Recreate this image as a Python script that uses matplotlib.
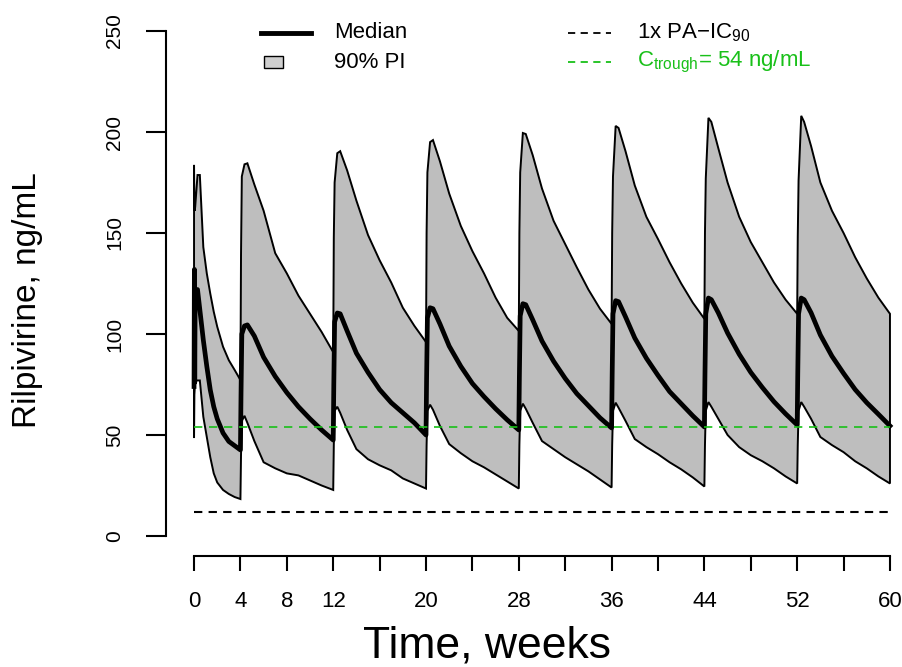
import numpy as np
import matplotlib
matplotlib.use("Agg")
import matplotlib.pyplot as plt
from matplotlib.lines import Line2D
from matplotlib.patches import Rectangle

plt.rcParams["font.family"] = ["Liberation Sans", "DejaVu Sans"]
plt.rcParams["mathtext.fontset"] = "custom"
plt.rcParams["mathtext.rm"] = "Liberation Sans"
plt.rcParams["mathtext.it"] = "Liberation Sans:italic"

# ---- data (ng/mL) ----
# start-up period, weeks 0-4
t_start = [0, 0.03, 0.06, 0.1, 0.3, 0.5, 0.8, 1.1, 1.4, 1.7, 2.0, 2.5, 3.0, 3.5, 4.0]
upper_start = [183.7, 165, 161, 163, 178.7, 178.7, 143, 130, 120, 111, 103.6, 93.7, 87, 82.2, 77.2]
median_start = [74, 132, 76, 122, 122, 112, 97, 84, 72.3, 64, 58, 51, 46.8, 44.7, 42.6]
lower_start = [48.5, 70, 73, 77, 77, 77, 59, 49, 39, 31, 26.5, 22.8, 20.8, 19.3, 18.3]

# maintenance injections every 8 weeks; offsets (weeks) after each dose
dose_weeks = [4, 12, 20, 28, 36, 44, 52]
tau = [0.05, 0.12, 0.35, 0.6, 1.2, 2.0, 3.0, 4.0, 5.0, 6.0, 7.0, 8.0]

upper_cycles = [
    [139, 178, 184, 184.5, 174, 161, 140, 130, 119, 110, 101, 91],
    [147.5, 175, 189.5, 190.5, 181, 166, 149, 136.5, 125.5, 113, 104, 96],
    [150, 180, 195, 196, 185.5, 169.5, 153.5, 141, 130, 118, 108, 101.5],
    [150, 180, 199.5, 199, 188.5, 172, 156, 144.5, 133, 122, 112.5, 105],
    [150, 178, 203, 202, 190.5, 173.5, 158, 147, 135.5, 125, 115.5, 107.5],
    [150, 177, 207, 205, 192, 175, 158, 145.5, 135.5, 125.5, 117, 110],
    [148, 176, 208, 205, 193, 175, 161, 150, 138, 127.5, 118, 110],
]
median_cycles = [
    [70, 100, 104, 104.5, 99, 88.5, 79, 71, 64, 58, 52.5, 47.5],
    [75, 106, 110.4, 110, 101.5, 90.5, 81, 72.5, 66, 61, 56, 50],
    [78, 108, 113, 112.5, 105, 94, 84, 75.5, 69, 63, 57.5, 52.5],
    [79, 109, 115, 114.5, 107, 96.5, 86.5, 78, 70.5, 64.5, 58.5, 53.5],
    [80, 110, 116.5, 116, 108.5, 98, 88, 79.5, 71.5, 65.5, 59.5, 54],
    [80, 110, 117.8, 117, 110.5, 100.5, 90, 81, 73.5, 66.5, 60.5, 55],
    [80, 110, 117.8, 117, 110.5, 99.5, 89, 80.5, 72.5, 66, 60.3, 54.5],
]
lower_cycles = [
    [40, 57, 59.5, 56, 47, 36.5, 33.5, 31, 30, 27.5, 25, 22.8],
    [45, 62, 64, 61, 52.5, 43, 38, 35, 32.5, 28.5, 26, 23.5],
    [45, 62, 65, 62.5, 54.5, 45.5, 41, 37, 34, 30.5, 27, 23.5],
    [45, 62, 65.5, 63, 56, 47, 43, 39, 35.5, 32, 28, 24],
    [45, 62, 66, 63.5, 57, 48, 44, 40.5, 36.5, 33, 29, 24.5],
    [45, 62, 66.3, 64, 58, 50, 44, 40, 37, 33.5, 29.5, 26],
    [45, 62, 66.3, 64, 58, 49, 45, 41.5, 37, 33.5, 29.5, 26],
]

pa_ic90 = 12
c_trough = 54
x_ticks = list(range(0, 61, 4))
x_labels = ["0", "4", "8", "12", "", "20", "", "28", "", "36", "", "44", "", "52", "", "60"]
y_ticks = [0, 50, 100, 150, 200, 250]

# ---- assemble time course ----
t = np.concatenate([t_start] + [d + np.array(tau) for d in dose_weeks])
upper = np.concatenate([upper_start] + upper_cycles)
median = np.concatenate([median_start] + median_cycles)
lower = np.concatenate([lower_start] + lower_cycles)

W, H = 903, 667
fig = plt.figure(figsize=(W / 100, H / 100), dpi=100)
# plot region in pixels (R style 4% padding): x -2.4..62.4, y -10..260
left, right, top, bottom = 166.2, 917.8, 10.8, 556.2
ax = fig.add_axes([left / W, 1 - bottom / H, (right - left) / W, (bottom - top) / H])
ax.set_xlim(-2.4, 62.4)
ax.set_ylim(-10, 260)

ax.fill(np.concatenate([t, t[::-1]]), np.concatenate([upper, lower[::-1]]),
        facecolor="#BEBEBE", edgecolor="black", linewidth=1.4, zorder=1)
ax.plot(t, median, color="black", linewidth=3.4, zorder=3)
ax.hlines(pa_ic90, 0, 60, colors="black", linewidth=1.5, linestyles=(0, (4, 3)), zorder=4)
ax.hlines(c_trough, 0, 60, colors="#19C019", linewidth=1.2, linestyles=(0, (5, 4)), zorder=4)

for side in ("top", "right"):
    ax.spines[side].set_visible(False)
ax.spines["left"].set_bounds(0, 250)
ax.spines["bottom"].set_bounds(0, 60)
for side in ("left", "bottom"):
    ax.spines[side].set_linewidth(1.5)

ax.set_xticks(x_ticks)
ax.set_xticklabels(x_labels)
ax.set_yticks(y_ticks)
ax.set_yticklabels([str(v) for v in y_ticks], rotation=90, va="center")
ax.tick_params(axis="x", length=10.8, width=1.5, pad=14, labelsize=16)
ax.tick_params(axis="y", length=14.4, width=1.5, pad=16, labelsize=15)

fig.text(487 / W, 1 - 646 / H, "Time, weeks", fontsize=32, ha="center", va="center")
fig.text(28 / W, 1 - 300 / H, "Rilpivirine, ng/mL", fontsize=24, rotation=90,
         ha="center", va="center")

# ---- legend (R style, two columns) ----
def fx(x):
    return x / W

def fy(y):
    return 1 - y / H

row1, row2 = 33, 62
fig.add_artist(Line2D([fx(261), fx(311)], [fy(row1)] * 2, color="black", linewidth=3.5))
fig.add_artist(Rectangle((fx(264), fy(row2 + 6)), 19 / W, 12 / H, facecolor="#CFCFCF",
                         edgecolor="black", linewidth=1.0))
fig.text(fx(334), fy(row1), "Median", fontsize=16, va="center")
fig.text(fx(334), fy(row2), "90% PI", fontsize=16, va="center")
fig.add_artist(Line2D([fx(568), fx(611)], [fy(row1)] * 2, color="black", linewidth=1.3,
                      linestyle=(0, (4, 3))))
fig.add_artist(Line2D([fx(568), fx(611)], [fy(row2)] * 2, color="#19C019", linewidth=1.3,
                      linestyle=(0, (4, 3))))
fig.text(fx(637), fy(row1), r"1x PA$\mathrm{-IC_{90}}$", fontsize=16, va="center")
fig.text(fx(637), fy(row2), r"$\mathrm{C_{trough}}$= 54 ng/mL", fontsize=16, va="center",
         color="#19C019")

fig.savefig("out.png", dpi=100, facecolor="white")
